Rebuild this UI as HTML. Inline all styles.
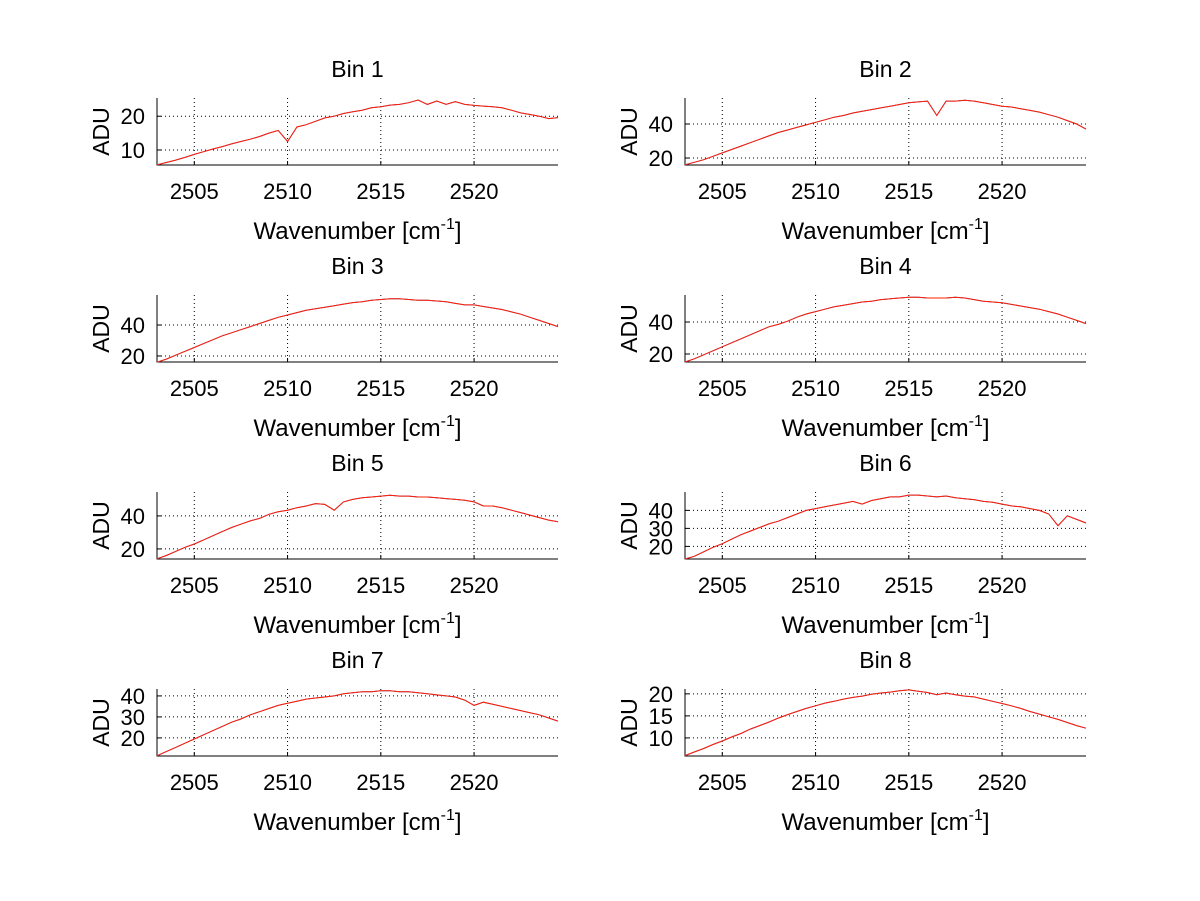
<!DOCTYPE html>
<html><head><meta charset="utf-8"><style>body{margin:0;background:#fff}svg{display:block}text{font-family:"Liberation Sans",sans-serif;fill:#000}</style></head>
<body>
<svg id="fig" width="1200" height="901" viewBox="0 0 1200 901"></svg>
<script>
const xTicks=[2505,2510,2515,2520];
const xs=[];for(let i=0;i<44;i++)xs.push(2503+0.5*i);
const bin1=[5.6,6.3,7,7.8,8.7,9.5,10.3,11,11.8,12.5,13.2,14,15,15.8,12.5,16.8,17.5,18.5,19.5,20,20.8,21.3,21.8,22.5,22.8,23.3,23.5,24,24.8,23.5,24.5,23.5,24.3,23.5,23.2,23,22.8,22.5,21.8,21,20.5,20,19.3,19.6];
const bin2=[16,17.5,19,21,23,25,27,29,31,33,35,36.5,38,39.5,41,42.5,44,45,46.5,47.5,48.5,49.5,50.5,51.5,52.5,53,53.5,45,53.5,53.5,54,53.5,52.5,51.5,50.5,50,49,48,47,45.5,44,42,40,37];
const bin3=[16,18,20.5,23,25.5,28,30.5,33,35,37,39,41,43,45,46.5,48,49.5,50.5,51.5,52.5,53.5,54.5,55,56,56.5,57,57,56.5,56,56,55.5,55,54,53,53,52,51,50,48.5,47,45,43,41,39];
const bin4=[15,17,19.5,22,24.5,27,29.5,32,34.5,37,38.5,40.5,43,45,46.5,48,49.5,50.5,51.5,52.5,53,54,54.5,55,55.5,55.5,55,55,55,55.5,55,54,53,52.5,52,51,50,49,48,46.5,45,43,41,39];
const bin5=[14,16,18.5,21,23,25.5,28,30.5,33,35,37,38.5,41,42.5,43.5,45,46,47.5,47,43.5,48.5,50,51,51.5,52,52.5,52,52,51.5,51.5,51,50.5,50,49.5,48.5,46,46,45,43.5,42,40.5,39,37.5,36.5];
const bin6=[13,14.5,17,19.5,21.5,24,26.5,28.5,30.5,32.5,34,36,38,40,41,42,43,44,45,43.5,45.5,46.5,47.5,47.5,48.5,48.5,48,47.5,48,47,46.5,46,45,44.5,43.5,42.5,42,41,40,38,31.5,37,35,33];
const bin7=[11.5,13.5,15.5,17.5,19.5,21.5,23.5,25.5,27.5,29,31,32.5,34,35.5,36.5,37.5,38.5,39,39.5,40,41,41.5,42,42,42.5,42.5,42,42,41.5,41,40.5,40,39.5,38,35.5,37,36,35,34,33,32,31,29.5,28];
const bin8=[6,6.8,7.6,8.5,9.3,10.2,11,12,12.8,13.6,14.5,15.3,16,16.7,17.3,17.9,18.3,18.8,19.2,19.5,19.9,20.2,20.4,20.7,20.9,20.6,20.3,19.8,20.2,19.8,19.5,19.3,18.8,18.3,17.8,17.3,16.7,16,15.4,14.8,14.2,13.5,12.8,12.2];
const series=[bin1,bin2,bin3,bin4,bin5,bin6,bin7,bin8];
const yRanges=[[5.55,25.4],[15.9,55.3],[16.1,59.4],[15,56.9],[13.9,54.5],[13,50.2],[11.4,43.3],[5.9,21.1]];
const yTickSets=[[10,20],[20,40],[20,40],[20,40],[20,40],[20,30,40],[20,30,40],[10,15,20]];
const titles=["Bin 1","Bin 2","Bin 3","Bin 4","Bin 5","Bin 6","Bin 7","Bin 8"];
const NS="http://www.w3.org/2000/svg",svg=document.getElementById('fig');
function mk(t,a,p){const e=document.createElementNS(NS,t);for(const k in a)e.setAttribute(k,a[k]);(p||svg).appendChild(e);return e;}
const xMin=2503,xMax=2524.5;
for(let b=0;b<8;b++){
  const col=b%2,row=Math.floor(b/2);
  const L=col?685:157,R=col?1086:558,T=98+197*row,B=165+197*row;
  const [y0,y1]=yRanges[b];
  const X=v=>L+(v-xMin)/(xMax-xMin)*(R-L);
  const Y=v=>B-(v-y0)/(y1-y0)*(B-T);
  const g=mk('g',{});
  
  
  xTicks.forEach(t=>{const l=mk('line',{x1:X(t),x2:X(t),y1:T,y2:B,stroke:'#000','stroke-width':1,'stroke-dasharray':'1,3'},g);
    mk('line',{x1:X(t),x2:X(t),y1:B,y2:B-4,stroke:'#000'},g);
    const tx=mk('text',{x:X(t),y:B+34,'font-size':22,'text-anchor':'middle'},g);tx.textContent=t;});
  yTickSets[b].forEach(t=>{const l=mk('line',{x1:L,x2:R,y1:Y(t),y2:Y(t),stroke:'#000','stroke-width':1,'stroke-dasharray':'1,3'},g);
    mk('line',{x1:L,x2:L+4,y1:Y(t),y2:Y(t),stroke:'#000'},g);
    const tx=mk('text',{x:L-12,y:Y(t)+8,'font-size':22,'text-anchor':'end'},g);tx.textContent=t;});
  mk('line',{x1:L,x2:L,y1:T,y2:B+0.5,stroke:'#000'},g);
  mk('line',{x1:L,x2:R,y1:B,y2:B,stroke:'#000'},g);
  const d=series[b].map((v,i)=>(i?'L':'M')+X(xs[i]).toFixed(1)+','+Y(v).toFixed(1)).join('');
  const bl=mk('path',{d:d,fill:'none',stroke:'#4040c0','stroke-width':1},g);
  const rl=mk('path',{d:d,fill:'none',stroke:'#ff2000','stroke-width':1},g);
  const ti=mk('text',{x:(L+R)/2,y:T-21,'font-size':23,'text-anchor':'middle'},g);ti.textContent=titles[b];
  const yl=mk('text',{x:0,y:0,'font-size':23,'text-anchor':'middle',transform:`translate(${L-48},${(T+B)/2}) rotate(-90)`},g);yl.textContent='ADU';
  const xl=mk('text',{x:(L+R)/2,y:B+74,'font-size':24,'text-anchor':'middle'},g);
  xl.innerHTML='Wavenumber [cm<tspan dy="-10" font-size="16">-1</tspan><tspan dy="10">]</tspan>';
}
</script>
</body></html>
